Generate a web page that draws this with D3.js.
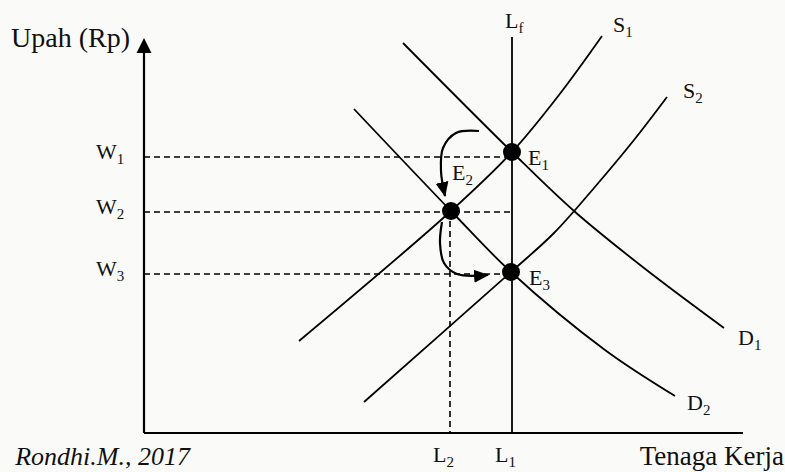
<!DOCTYPE html>
<html>
<head>
<meta charset="utf-8">
<script src="https://cdn.jsdelivr.net/npm/d3@7"></script>
<style>
  html, body { margin: 0; padding: 0; background: #fafbf9; }
  svg { display: block; }
  text { font-family: "Liberation Serif", "Times New Roman", serif; fill: #111; }
</style>
</head>
<body>
<div id="chart"></div>
<script>
'use strict';

// values, in chart units (x: labour, y: wage)
const xMax = 600, yMax = 400;
const wageLevels = [
  { name: 'W', sub: '1', value: 276 },
  { name: 'W', sub: '2', value: 221 },
  { name: 'W', sub: '3', value: 159 }
];
const labourLevels = [
  { name: 'L', sub: '2', value: 306 },
  { name: 'L', sub: '1', value: 368 }
];
const laborForce = { name: 'L', sub: 'f', x: 368, top: 396 };

const supply1 = [[155, 92], [307, 222], [368, 281], [415, 338], [458, 397]];
const supply2 = [[220, 31], [367, 161], [410, 200], [450, 245], [490, 293], [523, 336]];
const demand1 = [[259, 390], [368, 281], [430, 222], [500, 165], [580, 105]];
const demand2 = [[210, 324], [307, 222], [367, 161], [461, 83], [531, 37]];

const equilibria = [
  { name: 'E', sub: '1', x: 368, y: 281, dx: 16, dy: 13 },
  { name: 'E', sub: '2', x: 307, y: 222, dx: 1, dy: -31 },
  { name: 'E', sub: '3', x: 367, y: 161, dx: 18, dy: 13 }
];

const arrowUp = [[335, 302], [312, 300], [299, 285], [297, 262], [301, 237]];
const arrowDown = [[298, 211], [296, 190], [300, 170], [313, 159], [344, 158]];

// layout
const width = 785, height = 472;
const x = d3.scaleLinear().domain([0, xMax]).range([144, 744]);
const y = d3.scaleLinear().domain([0, yMax]).range([433, 33]);

const svg = d3.select('#chart').append('svg')
  .attr('width', width).attr('height', height);

const defs = svg.append('defs');
defs.append('marker')
  .attr('id', 'head')
  .attr('markerUnits', 'userSpaceOnUse')
  .attr('viewBox', '0 -7 15 14')
  .attr('refX', 14).attr('refY', 0)
  .attr('markerWidth', 15).attr('markerHeight', 14)
  .attr('orient', 'auto')
  .append('path').attr('d', 'M0,-6.5L15,0L0,6.5Z').attr('fill', '#000');

// text with a subscript
function label(px, py, main, sub, size = 22) {
  const t = svg.append('text').attr('x', px).attr('y', py).style('font-size', size + 'px');
  t.append('tspan').text(main);
  if (sub) t.append('tspan').attr('dy', 5).style('font-size', Math.round(size * 0.7) + 'px').text(sub);
  return t;
}

// axes
svg.append('line')
  .attr('x1', x(0)).attr('y1', y(0)).attr('x2', x(0)).attr('y2', 52)
  .attr('stroke', '#000').attr('stroke-width', 2.2);
svg.append('path')
  .attr('d', `M${x(0)},38L${x(0) - 7.5},53L${x(0) + 7.5},53Z`).attr('fill', '#000');
svg.append('line')
  .attr('x1', x(0)).attr('y1', y(0)).attr('x2', x(xMax) - 1).attr('y2', y(0))
  .attr('stroke', '#000').attr('stroke-width', 2.2);

// dashed guide lines
const dash = '6,4';
svg.selectAll('line.wage').data(wageLevels).join('line')
  .attr('class', 'wage')
  .attr('x1', x(0)).attr('x2', x(laborForce.x))
  .attr('y1', d => y(d.value)).attr('y2', d => y(d.value))
  .attr('stroke', '#000').attr('stroke-width', 1.6).attr('stroke-dasharray', dash);
svg.append('line')
  .attr('x1', x(labourLevels[0].value)).attr('x2', x(labourLevels[0].value))
  .attr('y1', y(equilibria[1].y)).attr('y2', y(0))
  .attr('stroke', '#000').attr('stroke-width', 1.6).attr('stroke-dasharray', dash);

// labour force line
svg.append('line')
  .attr('x1', x(laborForce.x)).attr('x2', x(laborForce.x))
  .attr('y1', y(laborForce.top)).attr('y2', y(0))
  .attr('stroke', '#000').attr('stroke-width', 1.8);

// supply and demand curves
const curve = d3.line().x(d => x(d[0])).y(d => y(d[1])).curve(d3.curveCatmullRom.alpha(0.5));
[supply1, supply2, demand1, demand2].forEach(pts => {
  svg.append('path').attr('d', curve(pts))
    .attr('fill', 'none').attr('stroke', '#000').attr('stroke-width', 1.8);
});

// shift arrows
[arrowUp, arrowDown].forEach(pts => {
  svg.append('path').attr('d', curve(pts))
    .attr('fill', 'none').attr('stroke', '#000').attr('stroke-width', 2.2)
    .attr('marker-end', 'url(#head)');
});

// equilibrium points
svg.selectAll('circle.eq').data(equilibria).join('circle')
  .attr('class', 'eq')
  .attr('cx', d => x(d.x)).attr('cy', d => y(d.y)).attr('r', 9)
  .attr('fill', '#000');
equilibria.forEach(d => label(x(d.x) + d.dx, y(d.y) + d.dy, d.name, d.sub));

// curve labels, placed past the upper / lower ends
const endOf = pts => pts[pts.length - 1];
label(x(endOf(supply1)[0]) + 11, y(endOf(supply1)[1]) - 4, 'S', '1');
label(x(endOf(supply2)[0]) + 16, y(endOf(supply2)[1]) + 1, 'S', '2');
label(x(endOf(demand1)[0]) + 14, y(endOf(demand1)[1]) + 17, 'D', '1');
label(x(endOf(demand2)[0]) + 12, y(endOf(demand2)[1]) + 14, 'D', '2');
label(x(laborForce.x) - 7, y(laborForce.top) - 9, laborForce.name, laborForce.sub);

// tick-like labels
wageLevels.forEach(d => label(96, y(d.value) + 2, d.name, d.sub));
labourLevels.forEach(d => label(x(d.value) - 17, 462, d.name, d.sub));

// axis titles and source
svg.append('text').attr('x', 11).attr('y', 47).style('font-size', '28px').text('Upah (Rp)');
svg.append('text').attr('x', 784).attr('y', 465).attr('text-anchor', 'end')
  .style('font-size', '27px').text('Tenaga Kerja');
svg.append('text').attr('x', 190).attr('y', 465).attr('text-anchor', 'end')
  .style('font-size', '26px').style('font-style', 'italic').text('Rondhi.M., 2017');
</script>
</body>
</html>
